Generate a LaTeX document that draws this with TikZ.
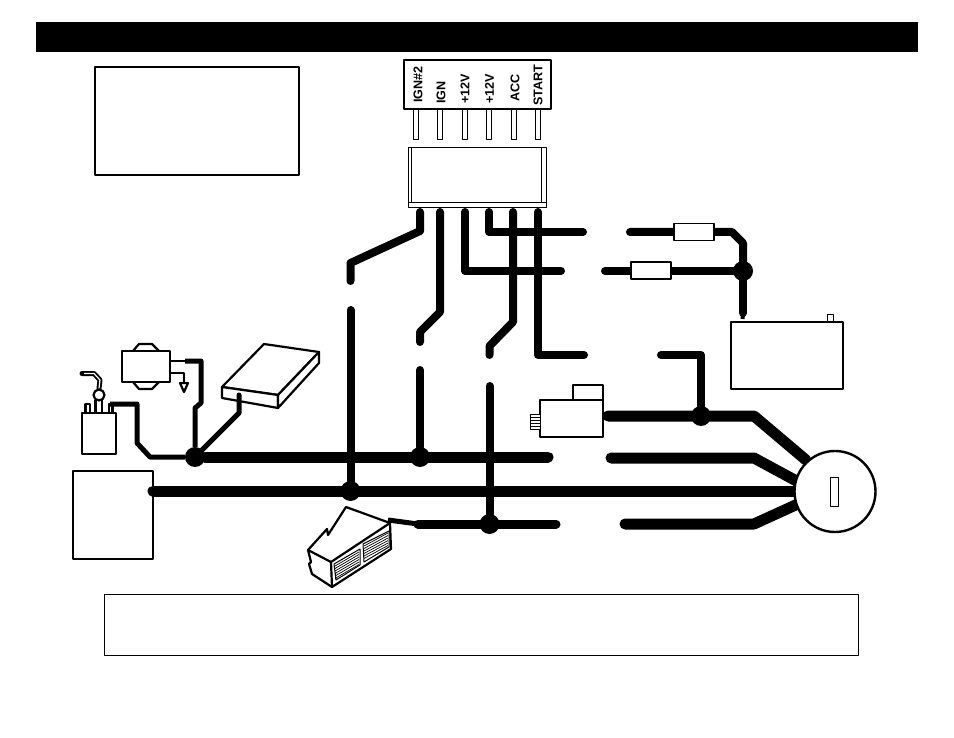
\documentclass[tikz,border=0pt]{standalone}
\usepackage{fontspec}
\setsansfont{Liberation Sans}
\begin{document}
\begin{tikzpicture}[x=1pt,y=-1pt,line join=round,
    part/.style={rectangle,draw,line width=2.4pt,fill=white,inner sep=0pt,outer sep=0pt},
    thin part/.style={rectangle,draw,line width=1pt,fill=white,inner sep=0pt,outer sep=0pt},
    pin/.style={thin part,minimum width=5pt,minimum height=31pt},
    pin label/.style={font=\sffamily\bfseries\fontsize{12.6}{14}\selectfont,inner sep=0pt,anchor=west,rotate=90},
    junction/.style={circle,fill=black,inner sep=0pt,outer sep=0pt,minimum size=20pt},
    wire/.style={line width=8pt,line cap=round},
    bus/.style={line width=11pt,line cap=round},
    lead/.style={line width=5pt},
    trim/.style={line width=2.2pt}]
  \useasboundingbox (0,0) rectangle (954,738);

  \node[rectangle,fill=black,inner sep=0pt,minimum width=882pt,minimum height=30pt] (TITLE) at (477,37) {};
  \node[part,minimum width=204pt,minimum height=108pt] (NOTE) at (197,121) {};
  \node[thin part,minimum width=754pt,minimum height=61pt] (CAPTION) at (481.5,625) {};

  % harness connector
  \foreach \name/\xpos in {PA/416,PB/440,PC/465,PD/489,PE/514,PF/538}
    \node[pin] (\name) at (\xpos,124.5) {};
  \node[part,line width=1.5pt,minimum width=147pt,minimum height=49pt] (HEAD) at (477.5,84.5) {};
  \node[pin label] (LA) at (418,103) {IGN\#2};
  \node[pin label] (LB) at (441,104) {IGN};
  \node[pin label] (LC) at (465,104) {+12V};
  \node[pin label] (LD) at (489.5,104) {+12V};
  \node[pin label] (LE) at (515,102) {ACC};
  \node[pin label] (LF) at (538,106) {START};
  \node[thin part,minimum width=138pt,minimum height=60pt] (PLUG) at (477,178) {};
  \node[thin part,minimum width=138pt,minimum height=5pt] (PLUGLIP) at (477,205.5) {};
  \draw[line width=1pt] (411.5,148) -- (411.5,203) (541.5,148) -- (541.5,203);
  \foreach \name/\xpos in {WA/420,WB/440,WC/465,WD/489,WE/513,WF/538}
    \coordinate (\name) at (\xpos,212);

  % parts
  \node[part,minimum width=112pt,minimum height=67pt] (BAT) at (787,355.5) {};
  \node[thin part,minimum width=6pt,minimum height=7pt] (BATPOS) at (830,318.5) {};
  \node[part,minimum width=63pt,minimum height=37pt] (SOL) at (571.5,418.5) {};
  \node[part,minimum width=30pt,minimum height=15pt] (SOLTOP) at (588,392.5) {};
  \node[thin part,minimum width=10pt,minimum height=15pt] (SOLPLUG) at (535,421.5) {};
  \foreach \ypos in {417,420,423,426}
    \draw[line width=1pt] (SOLPLUG.west |- 0,\ypos) -- (SOLPLUG.east |- 0,\ypos);
  \node[part,minimum width=80pt,minimum height=88pt] (AMP) at (113,515) {};

  % transformer
  \draw[trim] (133,351) -- (139,344) -- (152,344) -- (159,351)
    (133,382) -- (139,389) -- (152,389) -- (159,382);
  \node[part,minimum width=48pt,minimum height=31pt] (COIL) at (146,366.5) {};
  \coordinate (GND) at (184,383);
  \draw[trim] (COIL.east |- 0,361) -- (185,361);
  \draw[trim] (COIL.east |- 0,373) -- (184,373) -- (GND);
  \draw[trim] (GND) ++(-4,0) -- ++(8,0) -- (184,392) -- cycle;

  % sender
  \node[part,minimum width=34pt,minimum height=41pt] (SEND) at (99,433.5) {};
  \draw[trim] (85.5,413) rectangle (90,404) (109,413) rectangle (112.5,404);
  \draw[trim] (95.5,413) -- (95.5,400) (102,413) -- (102,400);
  \node[circle,draw,line width=2.2pt,fill=white,inner sep=0pt,minimum size=11pt] (BULB) at (99,395) {};
  \draw[line width=5pt,line cap=round] (BULB.north) -- (100,380) -- (94,373.5) -- (82,373.5);
  \draw[line width=1.2pt,white] (BULB.north) -- (100,380) -- (94,373.5) -- (84,373.5);

  % flat module
  \draw[trim,fill=white] (222,387) -- (264,344) -- (319,352) -- (278,395) -- cycle;
  \draw[trim,fill=white] (222,387) -- (278,395) -- (278,408) -- (222,398) -- cycle;
  \draw[trim,fill=white] (278,395) -- (319,352) -- (319,363) -- (278,408) -- cycle;
  \coordinate (MOD) at (239,395);

  % box with vents
  \draw[trim,fill=white] (308,550) -- (327,529) -- (328,535) -- (346,507) -- (390,523)
    -- (391,549) -- (332,587) -- (312,574) -- (309,564) -- (311,562) -- cycle;
  \draw[trim] (308,550) -- (331,562) -- (390,523) (331,562) -- (332,587);
  \draw[line width=1pt] (334,564) -- (360,549) -- (360,565) -- (336,580) -- cycle
    (363,544) -- (389,531) -- (389,547) -- (364,562) -- cycle;
  \foreach \ystep in {0,2.5,...,12.5} {
    \draw[line width=.7pt] (335,566+\ystep) -- (359,552+\ystep);
    \draw[line width=.7pt] (364,546+\ystep) -- (388,533+\ystep);
  }
  \coordinate (VENT) at (388,520);

  % junctions
  \node[junction] (JA) at (195,457) {};
  \node[junction] (JB) at (350.5,491) {};
  \node[junction] (JC) at (420,457) {};
  \node[junction] (JD) at (489.5,524) {};
  \node[junction] (JE) at (701,416) {};
  \node[junction] (JF) at (743,271) {};

  % wiring from the connector
  \draw[wire] (WA) -- (420,231) -- (350.5,263) -- (350.5,281);
  \draw[wire] (350.5,310) -- (JB);
  \draw[wire] (WB) -- (440,312) -- (420,332) -- (420,342);
  \draw[wire] (420,370) -- (JC);
  \draw[wire] (WC) -- (465,271) -- (561,271);
  \draw[wire] (605,271) -- (JF);
  \draw[wire] (WD) -- (489,232) -- (583,232);
  \draw[wire] (630,232) -- (732,232) -- (743,243) -- (JF);
  \draw[wire] (JF) -- (743,313);
  \draw[line width=4pt] (743,314) -- (742.5,319);
  \draw[wire] (WE) -- (513,322) -- (489.5,346) -- (489.5,355);
  \draw[wire] (489.5,386) -- (JD);
  \draw[wire] (WF) -- (538,355) -- (584,355);
  \draw[wire] (661,355) -- (701,355) -- (JE);
  \node[thin part,line width=1.6pt,minimum width=40pt,minimum height=17pt] (FUSEB) at (694,232) {};
  \node[thin part,line width=1.6pt,minimum width=40pt,minimum height=17pt] (FUSEA) at (651,270.5) {};

  % small leads
  \draw[lead] (185,361) -- (201,361) -- (201,403) -- (195,408) -- (JA);
  \draw[lead,line cap=round] (MOD) -- (239,413) -- (JA);
  \draw[lead] (110,404) -- (137,404) -- (137,443) -- (150,457) -- (JA);
  \draw[lead] (VENT) -- (418,524);

  % main runs
  \draw[bus] (JA) -- (548,457);
  \draw[bus] (AMP.east |- 0,491) -- (800,491);
  \draw[wire,line width=9pt] (418,524) -- (556,524);
  \draw[bus] (608,416) -- (754,416) -- (806,460);
  \draw[bus] (611,458) -- (754,458) -- (802,484);
  \draw[bus] (625,524) -- (754,524) -- (800,503);
  \node[circle,draw,line width=2.4pt,fill=white,inner sep=0pt,outer sep=0pt,minimum size=81pt] (KEY) at (835,491.5) {};
  \node[thin part,minimum width=8pt,minimum height=29pt] (SLOT) at (834,491.5) {};
\end{tikzpicture}
\end{document}
